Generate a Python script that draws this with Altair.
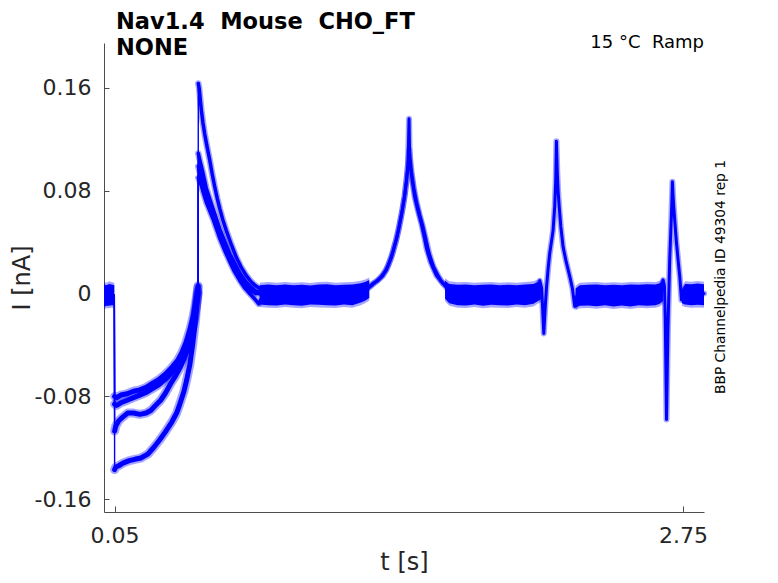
import altair as alt
import pandas as pd

# ---------------- text content ----------------
NB = "\u00a0"
title_line1 = "Nav1.4 " + NB + "Mouse " + NB + "CHO_FT"
title_line2 = "NONE"
condition_label = "15 °C " + NB + "Ramp"
side_label = "BBP Channelpedia ID 49304 rep 1"
x_title = "t [s]"
y_title = "I [nA]"
x_tick_values = [0.05, 2.75]
x_tick_labels = ["0.05", "2.75"]
y_tick_values = [-0.16, -0.08, 0.0, 0.08, 0.16]
y_tick_labels = ["-0.16", "-0.08", "0", "0.08", "0.16"]

# ---------------- sweeps: early part (holding, ramp, tail current) ----------------
pre_t = [0.0, 0.049]
pre_i = [-0.001, -0.001]

s1_t = pre_t + [0.0505, 0.06, 0.08, 0.11, 0.14, 0.17, 0.20, 0.23, 0.26, 0.29, 0.32, 0.35, 0.37, 0.39, 0.41, 0.425, 0.438, 0.447,
                0.448, 0.455, 0.47, 0.486, 0.50, 0.518, 0.55, 0.575, 0.597, 0.62, 0.645, 0.67, 0.692, 0.72, 0.75]
s1_i = pre_i + [-0.080, -0.081, -0.079, -0.078, -0.076, -0.075, -0.073, -0.070, -0.067, -0.063, -0.058, -0.052, -0.046, -0.038, -0.027, -0.017, -0.004, 0.006,
                0.109, 0.104, 0.094, 0.082, 0.075, 0.066, 0.050, 0.040, 0.031, 0.024, 0.016, 0.010, 0.006, 0.002, 0.0]

s2_t = pre_t + [0.0505, 0.06, 0.08, 0.11, 0.14, 0.17, 0.20, 0.23, 0.26, 0.29, 0.32, 0.35, 0.37, 0.39, 0.41, 0.425, 0.438, 0.447,
                0.448, 0.46, 0.486, 0.518, 0.55, 0.575, 0.597, 0.62, 0.645, 0.67, 0.692, 0.72, 0.745]
s2_i = pre_i + [-0.086, -0.087, -0.085, -0.083, -0.081, -0.079, -0.077, -0.074, -0.071, -0.067, -0.062, -0.056, -0.050, -0.042, -0.032, -0.022, -0.010, 0.002,
                0.099, 0.091, 0.075, 0.062, 0.047, 0.036, 0.028, 0.020, 0.013, 0.007, 0.003, 0.0, 0.0]

s3_t = pre_t + [0.0505, 0.056, 0.07, 0.09, 0.113, 0.14, 0.17, 0.20, 0.222, 0.245, 0.269, 0.29, 0.317, 0.34, 0.36, 0.38, 0.40, 0.415, 0.43, 0.447,
                0.448, 0.46, 0.486, 0.518, 0.55, 0.575, 0.597, 0.62, 0.645, 0.67, 0.692, 0.715, 0.735, 0.75, 0.765]
s3_i = pre_i + [-0.107, -0.103, -0.099, -0.096, -0.093, -0.093, -0.094, -0.093, -0.091, -0.087, -0.083, -0.078, -0.070, -0.064, -0.058, -0.051, -0.042, -0.032, -0.020, 0.0,
                0.090, 0.085, 0.071, 0.058, 0.043, 0.033, 0.025, 0.017, 0.010, 0.004, 0.0, -0.004, -0.008, -0.003, 0.0]

s4_t = pre_t + [0.0505, 0.056, 0.07, 0.09, 0.12, 0.146, 0.175, 0.208, 0.235, 0.264, 0.29, 0.322, 0.345, 0.36, 0.38, 0.393, 0.408, 0.421, 0.435, 0.447,
                0.448, 0.452, 0.458, 0.463, 0.47, 0.478, 0.49, 0.502, 0.514, 0.526, 0.538, 0.55, 0.565, 0.581, 0.605, 0.629, 0.65, 0.676, 0.70, 0.72, 0.74, 0.76]
s4_i = pre_i + [-0.137, -0.135, -0.134, -0.132, -0.130, -0.129, -0.128, -0.125, -0.120, -0.114, -0.108, -0.100, -0.093, -0.086, -0.076, -0.067, -0.055, -0.040, -0.020, 0.005,
                0.1635, 0.160, 0.150, 0.142, 0.133, 0.1245, 0.114, 0.104, 0.093, 0.083, 0.074, 0.066, 0.057, 0.049, 0.038, 0.028, 0.021, 0.014, 0.009, 0.006, 0.004, 0.0]

# ---------------- late part (sweeps overlap) ----------------
late_a_t = [0.75, 1.215, 1.25, 1.278, 1.30, 1.325, 1.35, 1.373, 1.39, 1.405, 1.418, 1.429, 1.438, 1.444, 1.449, 1.452, 1.456, 1.466, 1.476, 1.492,
            1.508, 1.52, 1.532, 1.55, 1.579, 1.61, 1.642, 1.66, 2.06, 2.070, 2.079, 2.089, 2.096, 2.102, 2.11, 2.117, 2.126, 2.133, 2.141, 2.146,
            2.149, 2.153, 2.157, 2.162, 2.17, 2.181, 2.195, 2.213, 2.225, 2.236, 2.245, 2.26, 2.645, 2.656, 2.662, 2.666, 2.672, 2.676, 2.679, 2.683,
            2.687, 2.691, 2.695, 2.698, 2.700, 2.703, 2.707, 2.711, 2.719, 2.727, 2.735, 2.743, 2.751, 2.85]
late_a_i = [0.0, 0.0, 0.004, 0.008, 0.010, 0.014, 0.022, 0.033, 0.043, 0.055, 0.066, 0.077, 0.090, 0.100, 0.136, 0.105, 0.097, 0.086, 0.075, 0.064,
            0.054, 0.045, 0.035, 0.025, 0.014, 0.008, 0.004, 0.0, 0.0, 0.010, 0.004, -0.031, -0.010, 0.005, 0.020, 0.031, 0.041, 0.049, 0.068, 0.090,
            0.1186, 0.095, 0.080, 0.068, 0.052, 0.036, 0.025, 0.013, 0.004, -0.010, -0.002, 0.0, 0.0, 0.0106, 0.006, -0.020, -0.098, -0.055, -0.026, 0.0,
            0.026, 0.043, 0.060, 0.075, 0.087, 0.076, 0.066, 0.057, 0.040, 0.026, 0.013, -0.005, 0.0, 0.0]
late_b_t = [1.22, 1.27, 1.31, 1.34, 1.365, 1.385, 1.40, 1.415, 1.427, 1.437, 1.446, 1.45, 1.455, 1.462, 1.472, 1.485, 1.50, 1.515, 1.528, 1.545,
            1.565, 1.60, 1.64, 1.66]
late_b_i = [0.0, 0.006, 0.012, 0.018, 0.028, 0.040, 0.050, 0.063, 0.075, 0.088, 0.104, 0.112, 0.104, 0.093, 0.082, 0.071, 0.061, 0.052, 0.043, 0.031,
            0.021, 0.010, 0.002, 0.0]

# ---------------- baseline noise envelope ----------------
base0_t = [0.0, 0.012, 0.024, 0.036, 0.049]
base0_hi = [0.007, 0.0065, 0.0075, 0.007, 0.0065]
base0_lo = [-0.0105, -0.0095, -0.0095, -0.009, -0.009]

base1_t = [0.74, 0.78, 0.82, 0.86, 0.90, 0.94, 0.98, 1.02, 1.06, 1.10, 1.14, 1.18, 1.22, 1.24, 1.26]
base1_hi = [0.0065, 0.007, 0.0065, 0.007, 0.0065, 0.0068, 0.0062, 0.007, 0.0072, 0.0065, 0.0068, 0.007, 0.008, 0.009, 0.0105]
base1_lo = [-0.0085, -0.009, -0.0092, -0.0085, -0.009, -0.0095, -0.0085, -0.0088, -0.009, -0.0092, -0.0085, -0.009, -0.007, -0.0055, -0.0035]

base2_t = [1.62, 1.64, 1.68, 1.72, 1.76, 1.80, 1.84, 1.88, 1.92, 1.96, 2.00, 2.04, 2.06, 2.075]
base2_hi = [0.010, 0.0075, 0.0068, 0.007, 0.0065, 0.0068, 0.007, 0.0064, 0.0068, 0.0065, 0.007, 0.0075, 0.009, 0.010]
base2_lo = [-0.004, -0.0075, -0.009, -0.0092, -0.0085, -0.0095, -0.0088, -0.009, -0.0092, -0.0085, -0.009, -0.008, -0.006, -0.0045]

base3_t = [2.24, 2.26, 2.30, 2.34, 2.38, 2.42, 2.46, 2.50, 2.54, 2.58, 2.62, 2.64, 2.655]
base3_hi = [0.004, 0.0065, 0.0068, 0.007, 0.0065, 0.0068, 0.0064, 0.007, 0.0068, 0.0072, 0.007, 0.008, 0.0105]
base3_lo = [-0.011, -0.0095, -0.0092, -0.0098, -0.009, -0.010, -0.0092, -0.010, -0.009, -0.0095, -0.009, -0.008, -0.006]

base4_t = [2.745, 2.76, 2.79, 2.82, 2.85]
base4_hi = [0.003, 0.0075, 0.0072, 0.0078, 0.0072]
base4_lo = [-0.0075, -0.0085, -0.009, -0.0088, -0.009]

# ---------------- build tables ----------------
def part_of(t):
    if t < 0.05:
        return "pre"
    if t <= 0.4475:
        return "ramp"
    return "post"

width_by_part = {"pre": 0, "ramp": 5.0, "post": 3.5}
fuzz_by_part = {"pre": 0, "ramp": 9.0, "post": 6.5}

rows = []
for name, ts, vs in [("s1", s1_t, s1_i), ("s2", s2_t, s2_i), ("s3", s3_t, s3_i), ("s4", s4_t, s4_i)]:
    for t, v in zip(ts, vs):
        p = part_of(t)
        rows.append({"sweep": name, "t": t, "i": v, "part": p, "seg": name + "_" + p,
                     "w": width_by_part[p], "fw": fuzz_by_part[p]})
sweeps = pd.DataFrame(rows)

late_rows = []
for name, ts, vs in [("a", late_a_t, late_a_i), ("b", late_b_t, late_b_i)]:
    for t, v in zip(ts, vs):
        late_rows.append({"trace": name, "t": t, "i": v})
late = pd.DataFrame(late_rows)

env_rows = []
for name, ts, hs, ls in [("b0", base0_t, base0_hi, base0_lo), ("b1", base1_t, base1_hi, base1_lo),
                         ("b2", base2_t, base2_hi, base2_lo), ("b3", base3_t, base3_hi, base3_lo),
                         ("b4", base4_t, base4_hi, base4_lo)]:
    for t, h, l in zip(ts, hs, ls):
        env_rows.append({"seg": name, "t": t, "hi": h, "lo": l})
env = pd.DataFrame(env_rows)

# ---------------- styling ----------------
W, H = 600, 469
BLUE = "#0000ff"
AXC = "#4d4d4d"
TXT = "#262626"
FONT = "DejaVu Sans"
FUZZ = 0.35
xs = alt.Scale(domain=[0.0, 2.85], nice=False, zero=False)
ys = alt.Scale(domain=[-0.17, 0.195], nice=False, zero=False)


def label_expr(vals, labs):
    parts = [f"datum.value == {v} ? '{l}'" for v, l in zip(vals, labs)]
    return " : ".join(parts) + " : ''"


x_axis_main = alt.Axis(values=x_tick_values, labelExpr=label_expr(x_tick_values, x_tick_labels), orient="bottom",
                       title=x_title, ticks=False, tickSize=0, domainColor=AXC, domainWidth=1, grid=False,
                       labelFont=FONT, labelFontSize=22, labelColor=TXT, labelPadding=13, labelFlush=False,
                       labelOverlap=False, titleFont=FONT, titleFontSize=24, titleFontWeight="normal",
                       titleColor=TXT, titleX=300, titleY=50, titleBaseline="middle", titleAlign="center")
y_axis_main = alt.Axis(values=y_tick_values, labelExpr=label_expr(y_tick_values, y_tick_labels), orient="left",
                       title=y_title, ticks=False, tickSize=0, domainColor=AXC, domainWidth=1, grid=False,
                       labelFont=FONT, labelFontSize=22, labelColor=TXT, labelPadding=13, labelOverlap=False,
                       titleFont=FONT, titleFontSize=24, titleFontWeight="normal", titleColor=TXT,
                       titleX=-82, titleY=234.5, titleAngle=270, titleBaseline="middle", titleAlign="center")
x_axis_ticks = alt.Axis(values=x_tick_values, orient="top", offset=-H, labels=False, domain=False, ticks=True,
                        tickSize=6, tickColor=AXC, tickWidth=1, grid=False, title=None)
y_axis_ticks = alt.Axis(values=y_tick_values, orient="right", offset=-W, labels=False, domain=False, ticks=True,
                        tickSize=5, tickColor=AXC, tickWidth=1, grid=False, title=None)

# fuzzy outer edge of the baseline noise
noise_fuzz = alt.Chart(env).transform_calculate(
    lo2="datum.lo - 0.002", hi2="datum.hi + 0.002"
).mark_area(color=BLUE, opacity=FUZZ, interpolate="linear").encode(
    x=alt.X("t:Q", scale=xs, axis=x_axis_main),
    y=alt.Y("lo2:Q", scale=ys, axis=y_axis_main),
    y2="hi2:Q",
    detail="seg:N",
)

noise_band = alt.Chart(env).mark_area(color=BLUE, opacity=1, interpolate="linear").encode(
    x=alt.X("t:Q", scale=xs, axis=None),
    y=alt.Y("lo:Q", scale=ys, axis=None),
    y2="hi:Q",
    detail="seg:N",
)

tick_layer = alt.Chart(env).mark_point(opacity=0).encode(
    x=alt.X("t:Q", scale=xs, axis=x_axis_ticks),
    y=alt.Y("lo:Q", scale=ys, axis=y_axis_ticks),
)

fuzz = alt.Chart(sweeps).transform_filter("datum.part != 'pre'").mark_line(
    color=BLUE, opacity=FUZZ, strokeJoin="round", strokeCap="round").encode(
    x=alt.X("t:Q", scale=xs, axis=None),
    y=alt.Y("i:Q", scale=ys, axis=None),
    detail="seg:N",
    strokeWidth=alt.StrokeWidth("fw:Q", scale=None, legend=None),
)

thin = alt.Chart(sweeps).mark_line(color=BLUE, strokeWidth=1.4, strokeJoin="round").encode(
    x=alt.X("t:Q", scale=xs, axis=None),
    y=alt.Y("i:Q", scale=ys, axis=None),
    detail="sweep:N",
)

thick = alt.Chart(sweeps).transform_filter("datum.part != 'pre'").mark_line(
    color=BLUE, strokeJoin="round", strokeCap="round").encode(
    x=alt.X("t:Q", scale=xs, axis=None),
    y=alt.Y("i:Q", scale=ys, axis=None),
    detail="seg:N",
    strokeWidth=alt.StrokeWidth("w:Q", scale=None, legend=None),
)

late_fuzz = alt.Chart(late).mark_line(color=BLUE, opacity=FUZZ, strokeWidth=6, strokeJoin="round",
                                      strokeCap="round").encode(
    x=alt.X("t:Q", scale=xs, axis=None),
    y=alt.Y("i:Q", scale=ys, axis=None),
    detail="trace:N",
)

late_lines = alt.Chart(late).mark_line(color=BLUE, strokeWidth=3, strokeJoin="round", strokeCap="round").encode(
    x=alt.X("t:Q", scale=xs, axis=None),
    y=alt.Y("i:Q", scale=ys, axis=None),
    detail="trace:N",
)

title1 = alt.Chart(alt.Data(values=[{"label": title_line1}])).mark_text(
    align="left", baseline="alphabetic", font=FONT, fontSize=22.5, fontWeight="bold", color="#000000").encode(
    text="label:N", x=alt.value(12), y=alt.value(-14))
title2 = alt.Chart(alt.Data(values=[{"label": title_line2}])).mark_text(
    align="left", baseline="alphabetic", font=FONT, fontSize=22.5, fontWeight="bold", color="#000000").encode(
    text="label:N", x=alt.value(12), y=alt.value(12))
cond = alt.Chart(alt.Data(values=[{"label": condition_label}])).mark_text(
    align="right", baseline="alphabetic", font=FONT, fontSize=18, color="#000000").encode(
    text="label:N", x=alt.value(600), y=alt.value(5))
side = alt.Chart(alt.Data(values=[{"label": side_label}])).mark_text(
    align="center", baseline="alphabetic", angle=270, font=FONT, fontSize=13.8, color="#000000").encode(
    text="label:N", x=alt.value(621), y=alt.value(234))

chart = alt.layer(noise_fuzz, tick_layer, noise_band, fuzz, late_fuzz, thin, thick, late_lines,
                  title1, title2, cond, side).resolve_axis(
    x="independent", y="independent"
).properties(
    width=W, height=H,
    autosize=alt.AutoSizeParams(type="none"),
    padding={"left": 96, "top": 35, "right": 66, "bottom": 63},
).configure_view(stroke=None)

chart.save("out.html", embed_options={"renderer": "svg", "actions": False})
